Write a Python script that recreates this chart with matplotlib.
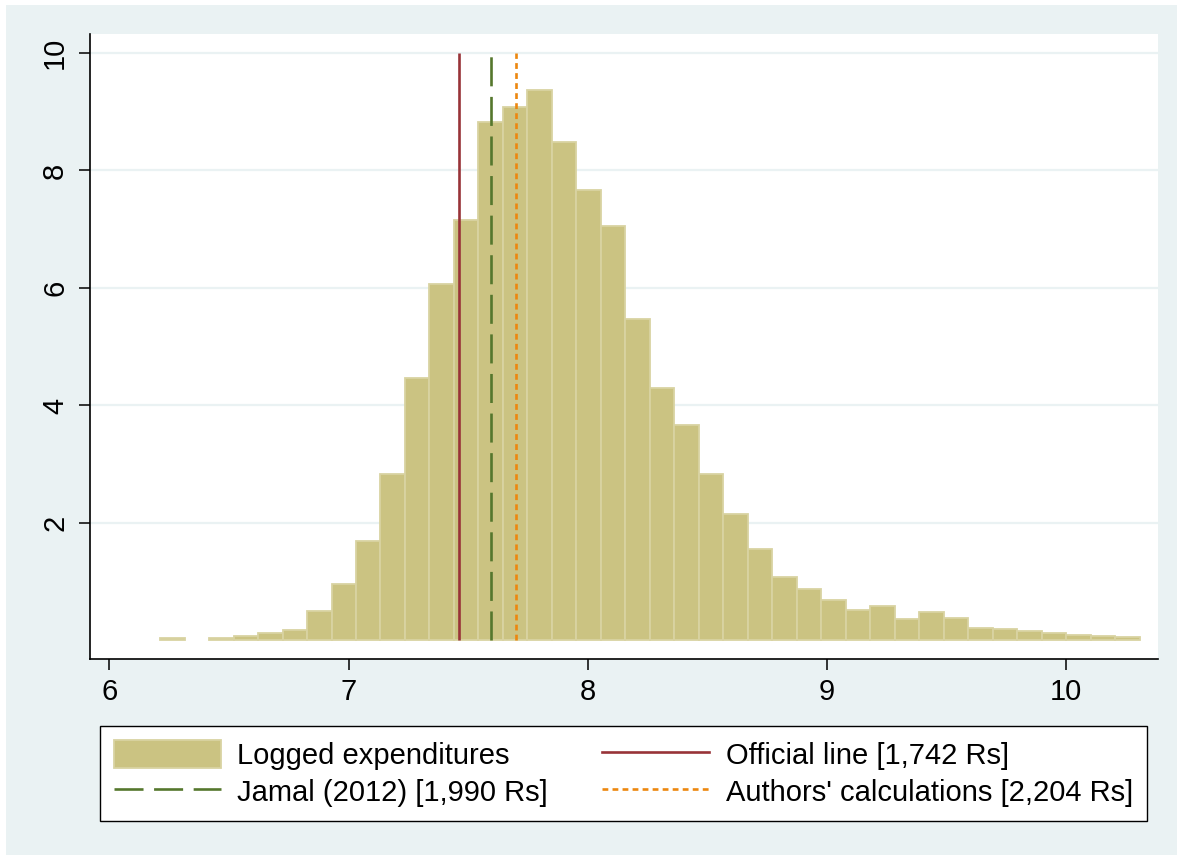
import numpy as np
import matplotlib
matplotlib.use('Agg')
import matplotlib.pyplot as plt
from matplotlib.patches import Patch, Rectangle
from matplotlib.lines import Line2D

plt.rcParams['font.family'] = ['Liberation Sans', 'DejaVu Sans']

##Histogram of logged expenditures (percent per bin)
bin_start = 6.212
bin_width = 0.10235
pct = [0.04, 0.0, 0.04, 0.07, 0.12, 0.18, 0.51, 0.96, 1.70, 2.83,
       4.47, 6.07, 7.15, 8.82, 9.08, 9.37, 8.49, 7.67, 7.05, 5.47,
       4.30, 3.67, 2.84, 2.16, 1.56, 1.08, 0.88, 0.69, 0.52, 0.58,
       0.36, 0.48, 0.38, 0.21, 0.19, 0.16, 0.13, 0.10, 0.07, 0.06]

##Poverty lines (Rs per month), drawn at log value
line_labels = ['Official line [1,742 Rs]', 'Jamal (2012) [1,990 Rs]', "Authors' calculations [2,204 Rs]"]
line_rs = [1742, 1990, 2204]

xticks = [6, 7, 8, 9, 10]
yticks = [2, 4, 6, 8, 10]

bar_fill = '#cbc382'
bar_edge = '#d9d3a2'
bg = '#eaf2f3'

W, H = 1177, 860
fig = plt.figure(figsize=(W/100, H/100), dpi=100, facecolor='white')
fig.patches.append(Rectangle((6/W, 5/H), 1 - 6/W, 1 - 10/H, transform=fig.transFigure,
                             facecolor=bg, edgecolor='none', zorder=-10))

ax = fig.add_axes([90/W, 1 - 659/H, (1158 - 90)/W, (659 - 34)/H])
ax.set_facecolor('white')

edges = bin_start + bin_width*np.arange(len(pct))
pct = np.array(pct)
keep = pct > 0
ax.bar(edges[keep], pct[keep], width=bin_width, align='edge', color=bar_fill,
       edgecolor=bar_edge, linewidth=1.3, zorder=2)

logs = np.log(line_rs)
ax.vlines(logs[0], 0, 10, color='#983338', lw=1.9, zorder=3)
ax.vlines(logs[1], 0, 10, color='#55772d', lw=1.9, linestyles=(0, (11, 4)), zorder=3)
ax.vlines(logs[2], 0, 10, color='#ec870f', lw=1.9, linestyles=(0, (2.2, 1.6)), zorder=3)

ax.set_xlim(5.919, 10.383)
ax.set_ylim(-0.315, 10.323)
ax.set_xticks(xticks)
ax.set_yticks(yticks)
ax.set_yticklabels([str(t) for t in yticks], rotation=90, va='center')
ax.tick_params(axis='both', labelsize=21, length=8, width=1.1, color='black', direction='out')
ax.tick_params(axis='y', pad=7)
ax.tick_params(axis='x', pad=5.5)
ax.grid(axis='y', color=bg, lw=1.6, zorder=0)
ax.set_axisbelow(True)
for s in ['top', 'right']:
    ax.spines[s].set_visible(False)
for s in ['left', 'bottom']:
    ax.spines[s].set_linewidth(1.2)

handles = [Patch(facecolor=bar_fill, edgecolor=bar_edge, linewidth=1.3),
           Line2D([], [], color='#55772d', lw=1.9, ls=(0, (11, 4))),
           Line2D([], [], color='#983338', lw=1.9),
           Line2D([], [], color='#ec870f', lw=1.9, ls=(0, (2.2, 1.6)))]
labels = ['Logged expenditures', line_labels[1], line_labels[0], line_labels[2]]
leg = fig.legend(handles, labels, ncol=2, loc='upper left', mode='expand',
                 bbox_to_anchor=(100/W, 1 - 823/H, (1147 - 100)/W, (823 - 726)/H),
                 bbox_transform=fig.transFigure, fontsize=21, frameon=True, fancybox=False,
                 edgecolor='black', framealpha=1, handlelength=3.67, handleheight=1.1,
                 handletextpad=0.57, columnspacing=1.5, labelspacing=0.27, borderpad=0.47,
                 borderaxespad=0)
leg.get_frame().set_linewidth(1.0)

plt.savefig('out.png', dpi=100, facecolor=fig.get_facecolor())
